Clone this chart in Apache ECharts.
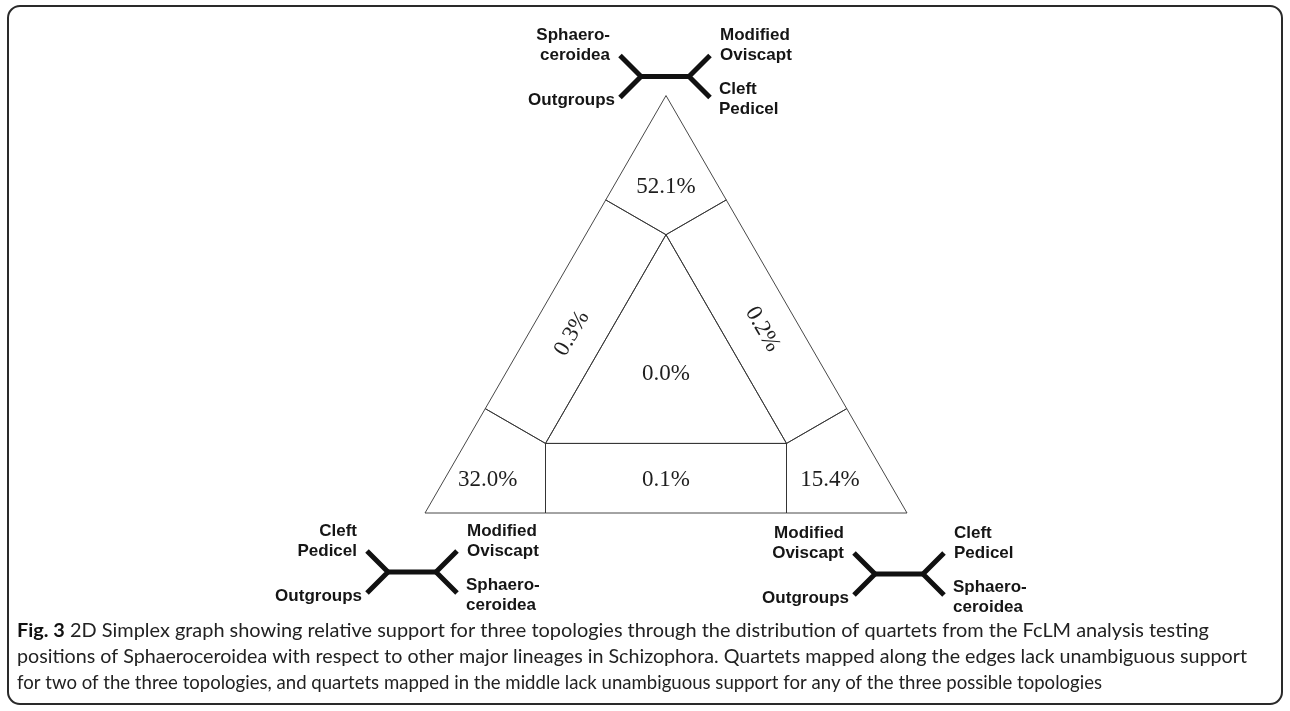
<!DOCTYPE html>
<html>
<head>
<meta charset="utf-8">
<title>2D Simplex graph</title>
<script src="https://cdn.jsdelivr.net/npm/echarts@6/dist/echarts.min.js"></script>
<style>
  html, body { margin: 0; padding: 0; background: #fff; }
  #chart { width: 1290px; height: 711px; }
</style>
</head>
<body>
<div id="chart"></div>
<script>
// quartet support per simplex region (percent)
// order: top corner, left corner, right corner, top-left edge, top-right edge, bottom edge, centre
const support = [52.1, 32.0, 15.4, 0.3, 0.2, 0.1, 0.0];

// region outlines, barycentric weights (top, left, right)
const regionVertices = [
  [[1, 0, 0], [3 / 4, 1 / 4, 0], [2 / 3, 1 / 6, 1 / 6], [3 / 4, 0, 1 / 4]],
  [[0, 1, 0], [0, 3 / 4, 1 / 4], [1 / 6, 2 / 3, 1 / 6], [1 / 4, 3 / 4, 0]],
  [[0, 0, 1], [1 / 4, 0, 3 / 4], [1 / 6, 1 / 6, 2 / 3], [0, 1 / 4, 3 / 4]],
  [[3 / 4, 1 / 4, 0], [1 / 4, 3 / 4, 0], [1 / 6, 2 / 3, 1 / 6], [2 / 3, 1 / 6, 1 / 6]],
  [[3 / 4, 0, 1 / 4], [2 / 3, 1 / 6, 1 / 6], [1 / 6, 1 / 6, 2 / 3], [1 / 4, 0, 3 / 4]],
  [[0, 3 / 4, 1 / 4], [0, 1 / 4, 3 / 4], [1 / 6, 1 / 6, 2 / 3], [1 / 6, 2 / 3, 1 / 6]],
  [[2 / 3, 1 / 6, 1 / 6], [1 / 6, 2 / 3, 1 / 6], [1 / 6, 1 / 6, 2 / 3]]
]

// where the percentage sits inside each region (barycentric)
const labelAt = [
  [0.78, 0.11, 0.11],
  [0.08, 0.83, 0.09],
  [0.08, 0.12, 0.80],
  [0.43, 0.48, 0.09],
  [0.44, 0.08, 0.48],
  [0.08, 0.46, 0.46],
  [1 / 3, 1 / 3, 1 / 3]
];

// topology drawn at each corner (top, bottom-left, bottom-right)
const sisterOfOutgroups = ['Sphaero-\nceroidea', 'Cleft\nPedicel', 'Modified\nOviscapt'];
const otherPair = [
  ['Modified\nOviscapt', 'Cleft\nPedicel'],
  ['Modified\nOviscapt', 'Sphaero-\nceroidea'],
  ['Cleft\nPedicel', 'Sphaero-\nceroidea']
];

const captionHead = 'Fig. 3';
const captionLines = [
  ' 2D Simplex graph showing relative support for three topologies through the distribution of quartets from the FcLM analysis testing',
  'positions of Sphaeroceroidea with respect to other major lineages in Schizophora. Quartets mapped along the edges lack unambiguous support',
  'for two of the three topologies, and quartets mapped in the middle lack unambiguous support for any of the three possible topologies'
];

const SQ = Math.sqrt(3) / 2;
// barycentric -> plane (bottom-left vertex at 0,0, side 1)
function toXY(w) {
  return [w[0] * 0.5 + w[2], w[0] * SQ];
}

// caption: size fitted to line 2, the other lines squeezed to their width in the figure
const capFamily = 'Lato';
const capWidths = [1192, 1230, 1085];
const ctx = document.createElement('canvas').getContext('2d');
ctx.font = '100px "' + capFamily + '"';
const capSize = 100 * capWidths[1] / ctx.measureText(captionLines[1]).width;
const capFont = capSize.toFixed(2) + 'px "' + capFamily + '"';
ctx.font = capFont;
const lineW = captionLines.map(s => ctx.measureText(s).width);
ctx.font = 'bold ' + capFont;
lineW[0] += ctx.measureText(captionHead).width;
const capScale = lineW.map((w, i) => capWidths[i] / w);

const chart = echarts.init(document.getElementById('chart'));

const edgeTilt = { 3: Math.PI / 3, 4: -Math.PI / 3 };
// icon centre offset (px) from its corner
const iconShift = [[-1, -19], [-13, 59], [-8, 61]];

function renderRegion(params, api) {
  const i = api.value(0);
  const pts = regionVertices[i].map(w => api.coord(toXY(w)));
  const c = api.coord(toXY(labelAt[i]));
  return {
    type: 'group',
    children: [
      {
        type: 'polygon',
        shape: { points: pts },
        style: { fill: 'none', stroke: '#333', lineWidth: 0.9 }
      },
      {
        type: 'text',
        x: c[0],
        y: c[1],
        rotation: edgeTilt[i] || 0,
        style: {
          text: api.value(1).toFixed(1) + '%',
          font: '23px "Liberation Serif"',
          fill: '#1e1e1e',
          align: 'center',
          verticalAlign: 'middle'
        }
      }
    ]
  };
}

function renderTopology(params, api) {
  const i = api.value(0);
  const corner = [0, 0, 0];
  corner[i] = 1;
  const p = api.coord(toXY(corner));
  const cx = p[0] + iconShift[i][0];
  const cy = p[1] + iconShift[i][1];
  const half = 24, arm = 21;
  const lineStyle = { fill: 'none', stroke: '#111', lineWidth: 5, lineJoin: 'bevel' };
  const labelFont = 'bold 17px "Liberation Sans"';
  const label = (text, x, y, align) => ({
    type: 'text',
    x: x,
    y: y,
    style: { text: text, font: labelFont, fill: '#151515', align: align, verticalAlign: 'middle', lineHeight: 20 }
  });
  return {
    type: 'group',
    children: [
      { type: 'polyline', shape: { points: [[cx - half - arm, cy - arm], [cx - half, cy], [cx - half - arm, cy + arm]] }, style: lineStyle },
      { type: 'line', shape: { x1: cx - half, y1: cy, x2: cx + half, y2: cy }, style: lineStyle },
      { type: 'polyline', shape: { points: [[cx + half + arm, cy - arm], [cx + half, cy], [cx + half + arm, cy + arm]] }, style: lineStyle },
      label(sisterOfOutgroups[i], cx - 55, cy - 31, 'right'),
      label('Outgroups', cx - 50, cy + 24, 'right'),
      label(otherPair[i][0], cx + 55, cy - 31, 'left'),
      label(otherPair[i][1], cx + 54, cy + 23, 'left')
    ]
  };
}

const option = {
  animation: false,
  grid: { left: 425, width: 482, top: 513 - 482 * SQ, height: 482 * SQ },
  xAxis: { type: 'value', min: 0, max: 1, show: false },
  yAxis: { type: 'value', min: 0, max: SQ, show: false },
  series: [
    {
      type: 'custom',
      clip: false,
      renderItem: renderRegion,
      data: support.map((v, i) => [i, v])
    },
    {
      type: 'custom',
      clip: false,
      renderItem: renderTopology,
      data: sisterOfOutgroups.map((_, i) => [i])
    }
  ],
  graphic: [
    {
      type: 'rect',
      shape: { x: 8, y: 6, width: 1274, height: 698, r: 12 },
      style: { fill: 'none', stroke: '#2a2a2a', lineWidth: 2 },
      silent: true
    },
    {
      type: 'text',
      x: 17,
      y: 631,
      scaleX: capScale[0],
      style: {
        text: '{b|' + captionHead + '}' + captionLines[0],
        font: capFont,
        fill: '#222',
        verticalAlign: 'middle',
        rich: { b: { fontWeight: 'bold', fontSize: capSize, fontFamily: capFamily, fill: '#111' } }
      }
    },
    {
      type: 'text',
      x: 17,
      y: 657,
      scaleX: capScale[1],
      style: { text: captionLines[1], font: capFont, fill: '#222', verticalAlign: 'middle' }
    },
    {
      type: 'text',
      x: 17,
      y: 683,
      scaleX: capScale[2],
      style: { text: captionLines[2], font: capFont, fill: '#222', verticalAlign: 'middle' }
    }
  ]
};

chart.setOption(option);
</script>
</body>
</html>
